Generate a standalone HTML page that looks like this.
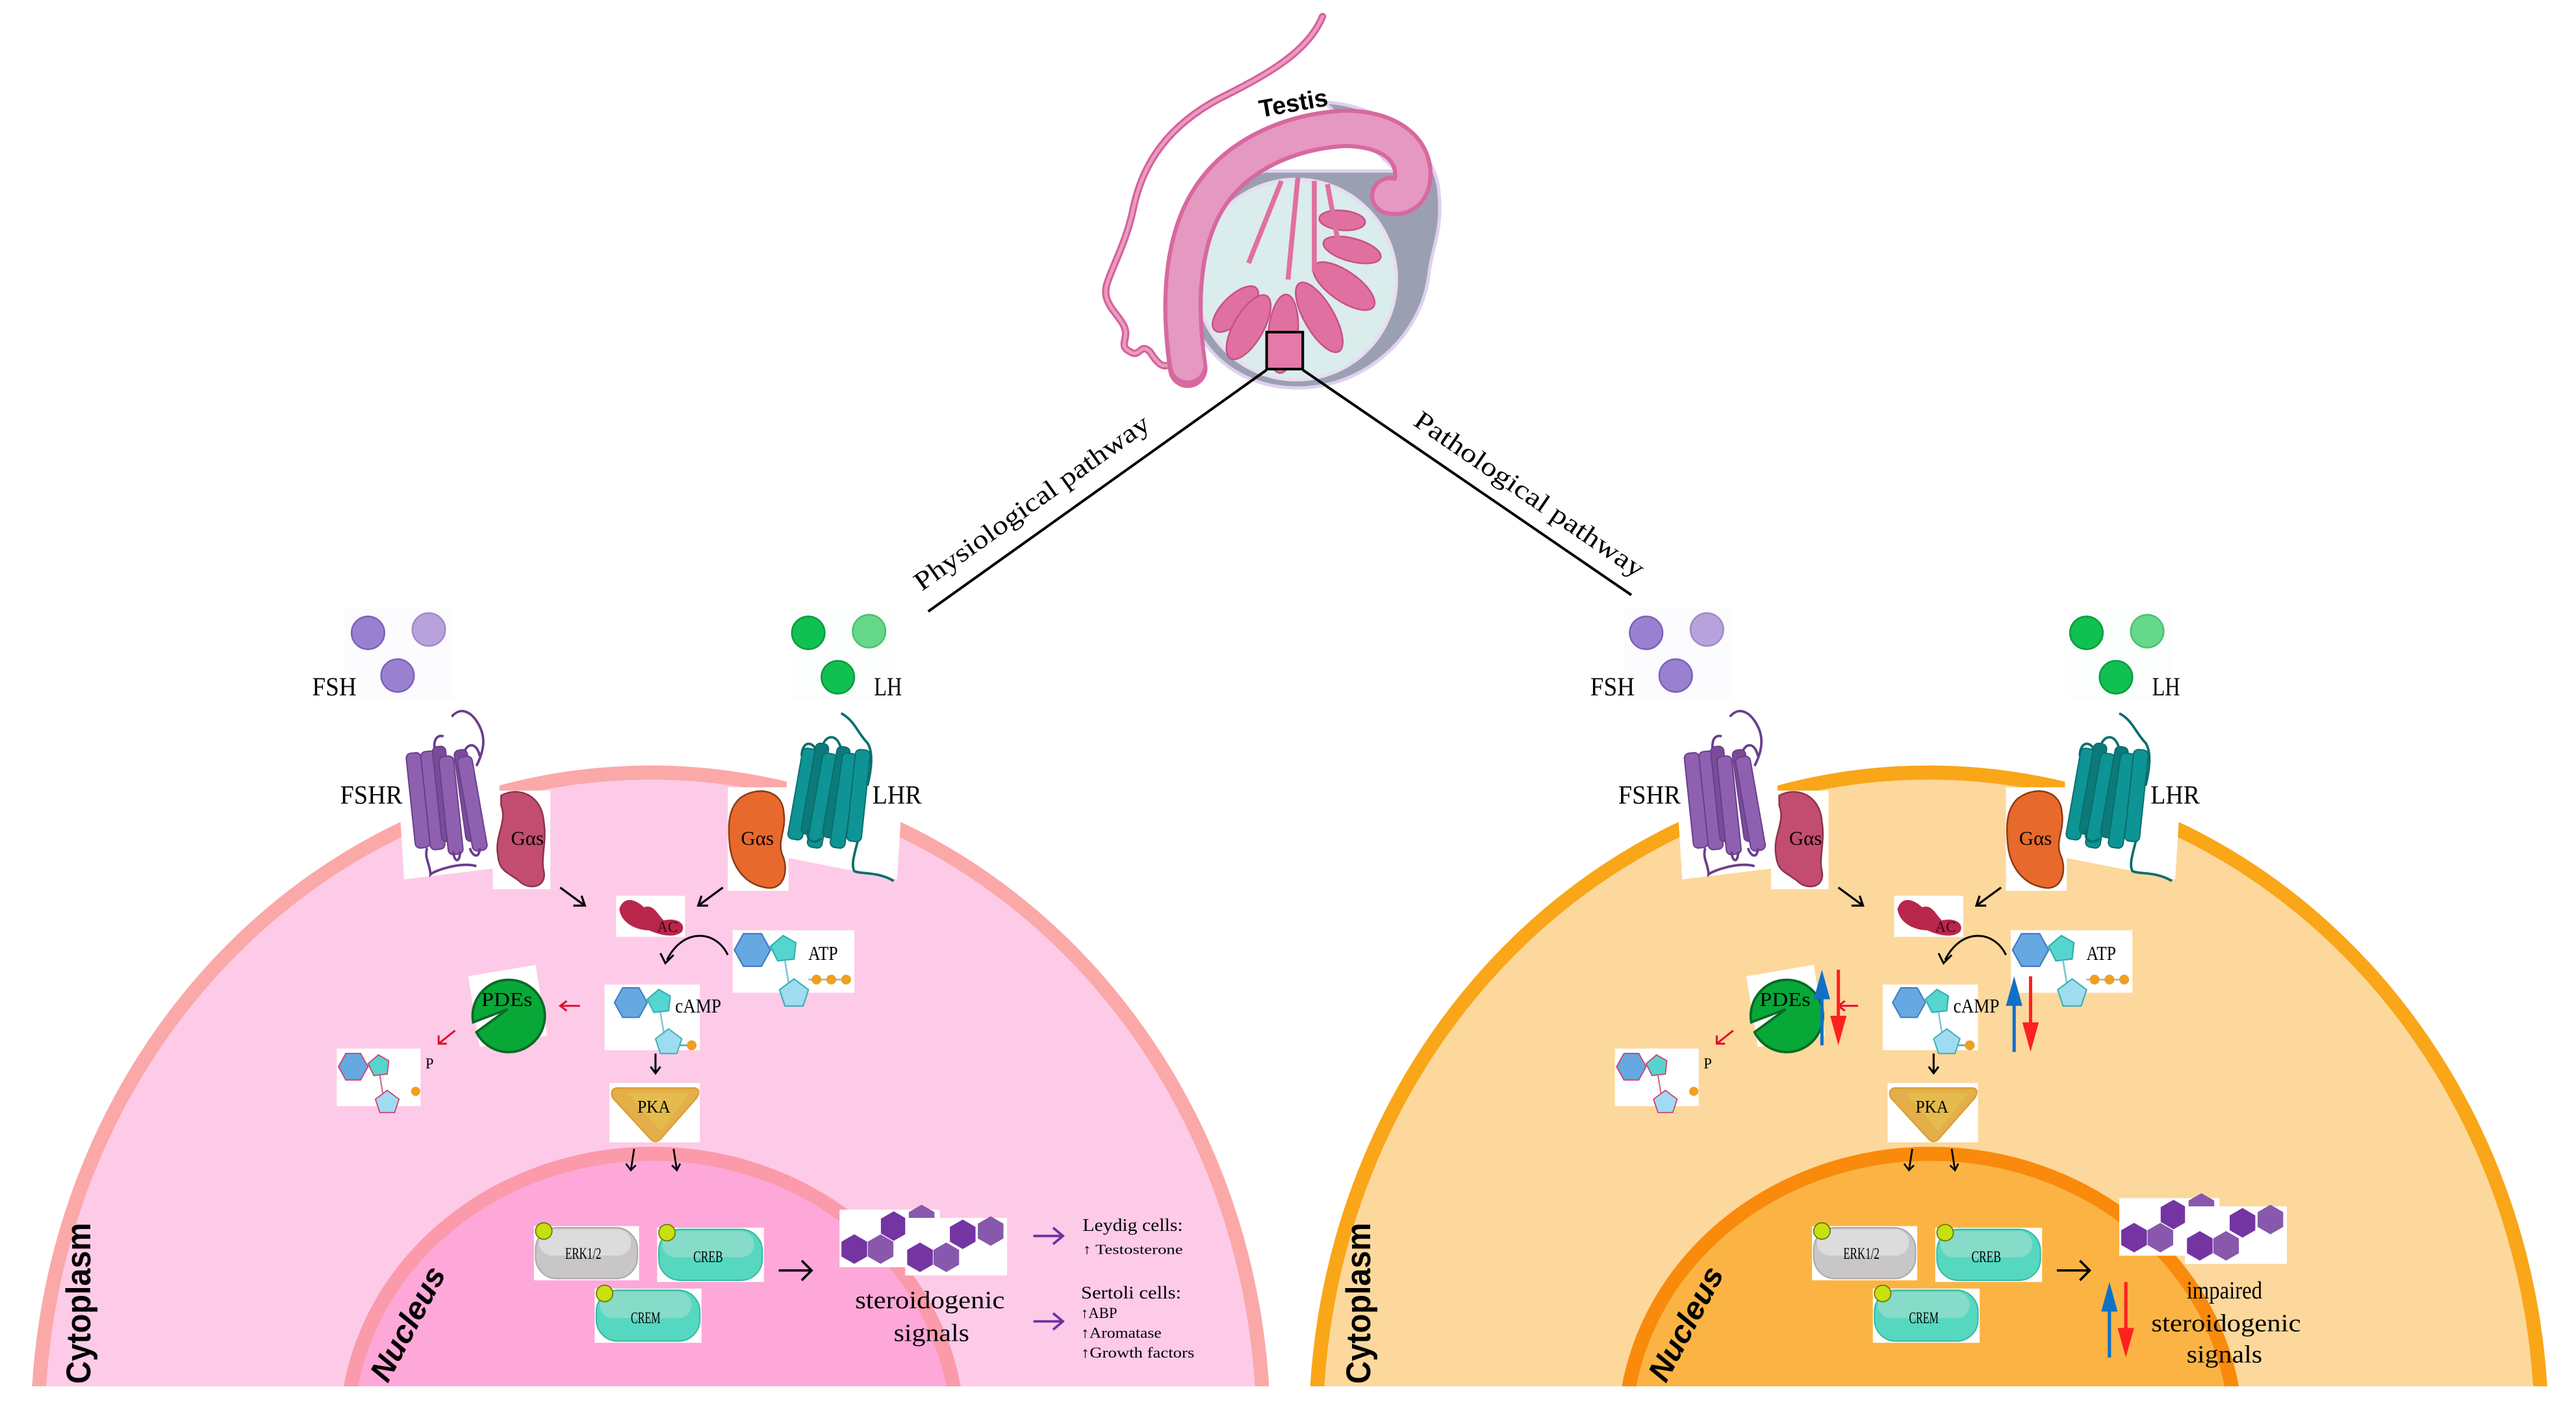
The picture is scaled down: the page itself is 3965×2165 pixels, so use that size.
<!DOCTYPE html>
<html><head><meta charset="utf-8"><style>
html,body{margin:0;padding:0;background:#fff;width:3965px;height:2165px;overflow:hidden;position:relative;}
svg{display:block;position:absolute;left:0;top:0;overflow:hidden;}
.sf{font-family:"Liberation Serif",serif;}
.ss{font-family:"Liberation Sans",sans-serif;}
</style></head><body>
<svg width="3965" height="2165" viewBox="0 0 1568 856" xmlns="http://www.w3.org/2000/svg">
<defs>
<clipPath id="cl"><rect x="0" y="0" width="1568" height="843.5"/></clipPath>
<polygon id="hx" points="0,-9 7.8,-4.5 7.8,4.5 0,9 -7.8,4.5 -7.8,-4.5"/>
<g id="mol">
  <polygon points="-10,0 -5,-9 5,-9 10,0 5,9 -5,9" fill="#66a8e0" stroke="#3f7cc4" stroke-width="0.8"/>
  <polygon points="10,-2 17,-8 24,-4 23,5 14,6" fill="#56d4d0" stroke="#2fb0b0" stroke-width="0.8"/>
  <line x1="18" y1="6" x2="20" y2="18" stroke="#7fc8d8" stroke-width="1"/>
  <polygon points="23,16 31,22 28,31 18,31 15,22" fill="#9fdcf2" stroke="#3fb2b2" stroke-width="0.8"/>
</g>
<g id="dbl">
  <line x1="5" y1="8" x2="5" y2="46" stroke="#1070c8" stroke-width="2"/>
  <polygon points="0,18 5,0 10,18" fill="#1070c8"/>
  <line x1="15" y1="0" x2="15" y2="38" stroke="#ff2020" stroke-width="2"/>
  <polygon points="10,28 15,46 20,28" fill="#ff2020"/>
</g>
<g id="hexes">
  <rect x="0" y="0" width="61" height="35" fill="#fff"/>
  <use href="#hx" x="9" y="24" fill="#7434a2"/>
  <use href="#hx" x="25" y="24" fill="#8858ac"/>
  <use href="#hx" x="33" y="10" fill="#7434a2"/>
  <use href="#hx" x="50" y="6" fill="#8858ac"/>
  <rect x="40" y="5" width="62" height="35" fill="#fff"/>
  <use href="#hx" x="49" y="29" fill="#7434a2"/>
  <use href="#hx" x="65" y="29" fill="#8858ac"/>
  <use href="#hx" x="75" y="15" fill="#7434a2"/>
  <use href="#hx" x="92" y="13" fill="#8858ac"/>
</g>
<g id="comp">
  <rect x="210" y="370" width="66" height="55" fill="#fcfbfe"/>
  <circle cx="224" cy="385" r="10" fill="#9a80d0" stroke="#7a62b8" stroke-width="1"/>
  <circle cx="261" cy="383" r="10" fill="#b8a2dc" stroke="#a08ac8" stroke-width="1"/>
  <circle cx="242" cy="411" r="10" fill="#9a80d0" stroke="#7a62b8" stroke-width="1"/>
  <rect x="482" y="370" width="62" height="55" fill="#fbfefc"/>
  <circle cx="492" cy="385" r="10" fill="#10c050" stroke="#0c9a40" stroke-width="1"/>
  <circle cx="529" cy="384" r="10" fill="#66d88a" stroke="#4cc070" stroke-width="1"/>
  <circle cx="510" cy="412" r="10" fill="#10c050" stroke="#0c9a40" stroke-width="1"/>
  <text class="sf" x="190" y="423" font-size="16" textLength="27" lengthAdjust="spacingAndGlyphs">FSH</text>
  <text class="sf" x="532" y="423" font-size="16" textLength="17" lengthAdjust="spacingAndGlyphs">LH</text>
  <polygon points="240,440 304,440 304,528 246,535" fill="#fff"/>
  <rect x="300" y="481" width="35" height="60" fill="#fff"/>
  <rect x="443" y="479" width="37" height="63" fill="#fff"/>
  <polygon points="478,440 552,440 546,535 480,522" fill="#fff"/>
  <g fill="#9060b0" stroke="#6a3e8e" stroke-width="0.8">
    <path d="M268,466 C262,455 264,446 270,448 M282,462 C282,452 290,450 292,460 M275,436 C280,430 287,432 292,442 C296,450 294,458 290,466" fill="none" stroke="#6a3e8e" stroke-width="1.5"/>
    <rect x="250" y="458" width="9" height="58" rx="3" transform="rotate(-6 254 487)"/>
    <rect x="259" y="457" width="9" height="60" rx="3" transform="rotate(-6 263 487)"/>
    <rect x="266" y="454" width="8" height="58" rx="3" fill="#7a4c98" transform="rotate(-6 270 483)"/>
    <rect x="270" y="460" width="9" height="60" rx="3" transform="rotate(-6 274 490)"/>
    <rect x="280" y="456" width="8" height="56" rx="3" fill="#7a4c98" transform="rotate(-8 284 484)"/>
    <rect x="283" y="460" width="9" height="58" rx="3" transform="rotate(-10 287 489)"/>
    <path d="M260,516 C258,522 262,526 262,532 C264,530 280,524 290,527 M276,518 C276,524 280,526 280,518 M286,516 C288,522 292,522 292,516" fill="none" stroke="#6a3e8e" stroke-width="1.5"/>
  </g>
  <text class="sf" x="207" y="489" font-size="16" textLength="38" lengthAdjust="spacingAndGlyphs">FSHR</text>
  <path d="M305,484 C316,478 330,484 331,500 C333,512 329,522 331,530 C333,540 322,542 316,536 C308,530 304,530 303,520 C301,508 309,500 305,490 Z" fill="#c24d70" stroke="#8e3250" stroke-width="1"/>
  <text class="sf" x="311" y="514" font-size="12" textLength="20" lengthAdjust="spacingAndGlyphs">Gαs</text>
  <g fill="#0e9494" stroke="#0a6e6e" stroke-width="0.8">
    <path d="M512,434 C520,438 522,446 528,452 C532,458 530,470 528,478 M488,460 C488,450 496,450 498,460 M500,456 C502,446 510,446 512,456" fill="none" stroke="#0a6e6e" stroke-width="1.5"/>
    <rect x="484" y="455" width="9" height="56" rx="3" transform="rotate(10 488 483)"/>
    <rect x="492" y="452" width="8" height="56" rx="3" fill="#0c7a7a" transform="rotate(10 496 480)"/>
    <rect x="496" y="458" width="9" height="58" rx="3" transform="rotate(10 500 487)"/>
    <rect x="505" y="454" width="8" height="56" rx="3" fill="#0c7a7a" transform="rotate(10 509 482)"/>
    <rect x="509" y="458" width="9" height="58" rx="3" transform="rotate(8 513 487)"/>
    <rect x="518" y="456" width="9" height="56" rx="3" transform="rotate(6 522 484)"/>
    <path d="M522,512 C520,520 518,526 520,530 C524,532 534,530 544,536 M492,505 C490,512 496,514 500,510" fill="none" stroke="#0a6e6e" stroke-width="1.5"/>
  </g>
  <text class="sf" x="531" y="489" font-size="16" textLength="30" lengthAdjust="spacingAndGlyphs">LHR</text>
  <path d="M450,486 C460,478 476,480 477,494 C479,506 472,512 477,522 C480,532 476,542 466,540 C454,538 445,528 444,512 C443,500 444,492 450,486 Z" fill="#e8692c" stroke="#8e3a14" stroke-width="1"/>
  <text class="sf" x="451" y="514" font-size="12" textLength="20" lengthAdjust="spacingAndGlyphs">Gαs</text>
  <g stroke="#000" stroke-width="1.3" fill="none">
    <path d="M341,540 L356,551 M349,551 L356,551 L354,545"/>
    <path d="M440,540 L425,551 M431,551 L425,551 L427,545"/>
  </g>
  <rect x="375" y="545" width="42" height="25" fill="#fff"/>
  <path d="M377,553 C380,544 388,548 392,552 C398,550 400,556 404,560 C412,558 418,562 415,567 C410,571 402,569 395,566 C388,566 378,562 377,553 Z" fill="#b8264c"/>
  <text class="sf" x="400" y="567" font-size="9" fill="#3a0010">AC</text>
  <rect x="446" y="566" width="74" height="38" fill="#fff"/>
  <use href="#mol" transform="translate(458,578) scale(1.1)"/>
  <line x1="492" y1="596" x2="515" y2="596" stroke="#9ab8d8" stroke-width="1"/>
  <circle cx="497" cy="596" r="3" fill="#f0a020"/><circle cx="506" cy="596" r="3" fill="#f0a020"/><circle cx="515" cy="596" r="3" fill="#f0a020"/>
  <text class="sf" x="492" y="584" font-size="12" textLength="18" lengthAdjust="spacingAndGlyphs">ATP</text>
  <path d="M443,581 C436,566 416,564 406,584" fill="none" stroke="#000" stroke-width="1.2"/>
  <path d="M402,580 L405,586 L410,581" fill="none" stroke="#000" stroke-width="1.2"/>
  <rect x="368" y="599" width="58" height="40" fill="#fff"/>
  <use href="#mol" transform="translate(384,610)"/>
  <line x1="414" y1="636" x2="419" y2="636" stroke="#4ab" stroke-width="1"/>
  <circle cx="421" cy="636" r="3" fill="#f0a020"/>
  <text class="sf" x="411" y="616" font-size="12" textLength="28" lengthAdjust="spacingAndGlyphs">cAMP</text>
  <polygon points="285,594 326,587 333,630 292,637" fill="#fff"/>
  <path d="M309,614 L288,622 A22,22 0 1 1 290,628 Z" fill="#08a838" stroke="#0a6a24" stroke-width="1.5"/>
  <text class="sf" x="293" y="612" font-size="12" textLength="31" lengthAdjust="spacingAndGlyphs">PDEs</text>
  <g stroke="#e01030" stroke-width="1.2" fill="none">
    <path d="M353,612 L341,612 M345,609 L341,612 L345,615"/>
    <path d="M277,627 L267,635 M267,630 L267,635 L272,635"/>
  </g>
  <rect x="205" y="638" width="51" height="35" fill="#fff"/>
  <g transform="translate(215,649) scale(0.9)">
    <polygon points="-10,0 -5,-9 5,-9 10,0 5,9 -5,9" fill="#66a8e0" stroke="#d04070" stroke-width="0.8"/>
    <polygon points="10,-2 17,-8 24,-4 23,5 14,6" fill="#56d4d0" stroke="#d04070" stroke-width="0.8"/>
    <line x1="18" y1="6" x2="20" y2="18" stroke="#d07090" stroke-width="1"/>
    <polygon points="23,16 31,22 28,31 18,31 15,22" fill="#9fdcf2" stroke="#d04070" stroke-width="0.8"/>
  </g>
  <circle cx="253" cy="664" r="2.8" fill="#f0a020"/>
  <text class="sf" x="259" y="650" font-size="9">P</text>
  <path d="M399,641 L399,653 M396,649 L399,653 L402,649" stroke="#000" stroke-width="1.2" fill="none"/>
  <rect x="371" y="659" width="55" height="36" fill="#fff"/>
  <path d="M375,662 L423,662 Q427,663 424,668 L402,693 Q399,696 396,693 L373,668 Q371,663 375,662 Z" fill="#e4ae48" stroke="#daa038" stroke-width="1"/>
  <path d="M382,665 L420,665 L402,688 Z" fill="#e2c250" opacity="0.7"/>
  <text class="sf" x="388" y="677" font-size="11" textLength="20" lengthAdjust="spacingAndGlyphs">PKA</text>
  <g stroke="#000" stroke-width="1.1" fill="none">
    <path d="M386,699 L384,712 M381,708 L384,712 L387,709"/>
    <path d="M410,699 L412,712 M409,709 L412,712 L414,708"/>
  </g>
  <rect x="325" y="746" width="64" height="33" fill="#fff"/>
  <rect x="326" y="747" width="62" height="31" rx="13" fill="#c8c6c6" stroke="#a8a8a8" stroke-width="0.8"/>
  <rect x="328" y="748" width="56" height="16" rx="8" fill="#dcdcdc"/>
  <circle cx="331" cy="749" r="5" fill="#c8e010" stroke="#6a7a00" stroke-width="0.7"/>
  <text class="sf" x="344" y="766" font-size="10" textLength="22" lengthAdjust="spacingAndGlyphs">ERK1/2</text>
  <rect x="400" y="747" width="65" height="33" fill="#fff"/>
  <rect x="401" y="748" width="63" height="31" rx="13" fill="#56d8c0" stroke="#36b8a0" stroke-width="0.8"/>
  <rect x="403" y="749" width="56" height="16" rx="8" fill="#86dcc8"/>
  <circle cx="406" cy="750" r="5" fill="#c8e010" stroke="#6a7a00" stroke-width="0.7"/>
  <text class="sf" x="422" y="768" font-size="10" textLength="18" lengthAdjust="spacingAndGlyphs">CREB</text>
  <rect x="362" y="784" width="65" height="33" fill="#fff"/>
  <rect x="363" y="785" width="63" height="31" rx="13" fill="#56d8c0" stroke="#36b8a0" stroke-width="0.8"/>
  <rect x="365" y="786" width="56" height="16" rx="8" fill="#86dcc8"/>
  <circle cx="368" cy="787" r="5" fill="#c8e010" stroke="#6a7a00" stroke-width="0.7"/>
  <text class="sf" x="384" y="805" font-size="10" textLength="18" lengthAdjust="spacingAndGlyphs">CREM</text>
  <path d="M474,773 L494,773 M488,767 L494,773 L488,779" stroke="#000" stroke-width="1.4" fill="none"/>
</g>
</defs>

<g>
  <path d="M805,10 C796,32 770,46 742,60 C712,76 696,98 690,126 C686,146 678,160 674,172 C670,184 680,190 684,198 C688,206 680,210 688,214 C694,218 694,208 700,214 C704,220 708,226 714,220" fill="none" stroke="#d8609a" stroke-width="4.5" stroke-linecap="round"/>
  <path d="M805,10 C796,32 770,46 742,60 C712,76 696,98 690,126 C686,146 678,160 674,172 C670,184 680,190 684,198 C688,206 680,210 688,214 C694,218 694,208 700,214 C704,220 708,226 714,220" fill="none" stroke="#e89cc0" stroke-width="2" stroke-linecap="round"/>
  <path d="M806,62 C842,64 874,88 876,118 C878,140 872,150 870,165 C866,205 830,236 790,236 C748,236 720,205 722,168 C724,130 744,112 770,104 L850,104 Z" fill="#9aa0b2" stroke="#e0d0ee" stroke-width="2"/>
  <ellipse cx="789" cy="170" rx="61" ry="61" fill="#daeceb" stroke="#e8dcf0" stroke-width="2"/>
  <g fill="#e070a0" stroke="#c8508a" stroke-width="1">
    <ellipse cx="752" cy="188" rx="18" ry="8" transform="rotate(-45 752 188)"/>
    <ellipse cx="760" cy="199" rx="22" ry="9" transform="rotate(-60 760 199)"/>
    <ellipse cx="781" cy="203" rx="24" ry="9" transform="rotate(-85 781 203)"/>
    <ellipse cx="803" cy="193" rx="24" ry="9" transform="rotate(-120 803 193)"/>
    <ellipse cx="818" cy="174" rx="22" ry="9" transform="rotate(-145 818 174)"/>
    <ellipse cx="823" cy="152" rx="18" ry="7" transform="rotate(-165 823 152)"/>
    <ellipse cx="817" cy="134" rx="14" ry="6" transform="rotate(-175 817 134)"/>
    <path d="M780,110 L760,160 M790,108 L784,170 M800,110 L800,165 M808,112 L815,150" stroke="#e070a0" stroke-width="3" fill="none"/>
  </g>
  <path d="M723,224 C718,190 718,150 735,122 C752,94 785,80 818,78 C845,78 860,90 860,106 C860,116 854,121 846,119" fill="none" stroke="#d868a0" stroke-width="24" stroke-linecap="round"/>
  <path d="M723,222 C718,190 718,150 735,122 C752,94 785,80 818,78 C845,78 860,90 860,106 C860,116 854,121 846,119" fill="none" stroke="#e598c0" stroke-width="19" stroke-linecap="round"/>
  <rect x="771" y="202" width="22" height="22.5" fill="#e47aa8" stroke="#000" stroke-width="1.6"/>
  <text class="ss" x="766" y="68" font-size="15" font-weight="bold" transform="rotate(-10 786 62)">Testis</text>
</g>
<line x1="771" y1="225" x2="565" y2="372" stroke="#000" stroke-width="1.6"/>
<line x1="793" y1="225" x2="993" y2="362" stroke="#000" stroke-width="1.6"/>
<text class="sf" x="0" y="0" font-size="16" text-anchor="middle" textLength="172" lengthAdjust="spacingAndGlyphs" transform="translate(631,310) rotate(-35.5)">Physiological pathway</text>
<text class="sf" x="0" y="0" font-size="16" text-anchor="middle" textLength="166" lengthAdjust="spacingAndGlyphs" transform="translate(928,305) rotate(34.4)">Pathological pathway</text>

<g clip-path="url(#cl)">
  <ellipse cx="396" cy="870" rx="373" ry="400" fill="#fdcbe8" stroke="#fba8a8" stroke-width="8.6"/>
  <ellipse cx="397" cy="872" rx="186" ry="170" fill="#fda8d8" stroke="#fb9aaa" stroke-width="8.6"/>
  <ellipse cx="1174" cy="870" rx="373" ry="400" fill="#fdd89c" stroke="#f9a618" stroke-width="8.6"/>
  <ellipse cx="1175" cy="872" rx="186" ry="170" fill="#fbb444" stroke="#f98a0c" stroke-width="8.6"/>
</g>
<text class="ss" font-size="21" font-weight="bold" textLength="98" lengthAdjust="spacingAndGlyphs" transform="translate(55,842) rotate(-90)">Cytoplasm</text>
<text class="ss" font-size="19" font-weight="bold" font-style="italic" textLength="76" lengthAdjust="spacingAndGlyphs" transform="translate(236,842) rotate(-62)">Nucleus</text>
<text class="ss" font-size="21" font-weight="bold" textLength="98" lengthAdjust="spacingAndGlyphs" transform="translate(834,842) rotate(-90)">Cytoplasm</text>
<text class="ss" font-size="19" font-weight="bold" font-style="italic" textLength="76" lengthAdjust="spacingAndGlyphs" transform="translate(1014,842) rotate(-62)">Nucleus</text>

<use href="#comp"/>
<use href="#comp" transform="translate(778,0)"/>

<use href="#hexes" transform="translate(511,736)"/>
<text class="sf" x="566" y="796" font-size="15" text-anchor="middle" textLength="91" lengthAdjust="spacingAndGlyphs">steroidogenic</text>
<text class="sf" x="567" y="816" font-size="15" text-anchor="middle" textLength="46" lengthAdjust="spacingAndGlyphs">signals</text>
<g stroke="#7030a0" stroke-width="1.5" fill="none">
  <path d="M629,752 L647,752 M641,747 L647,752 L641,757"/>
  <path d="M629,804 L647,804 M641,799 L647,804 L641,809"/>
</g>
<text class="sf" x="659" y="749" font-size="11" textLength="61" lengthAdjust="spacingAndGlyphs">Leydig cells:</text>
<text class="sf" x="659" y="763" font-size="8.5" textLength="61" lengthAdjust="spacingAndGlyphs">↑ Testosterone</text>
<text class="sf" x="658" y="790" font-size="11" textLength="61" lengthAdjust="spacingAndGlyphs">Sertoli cells:</text>
<text class="sf" x="658" y="802" font-size="9">↑ABP</text>
<text class="sf" x="658" y="814" font-size="9" textLength="49" lengthAdjust="spacingAndGlyphs">↑Aromatase</text>
<text class="sf" x="658" y="826" font-size="9" textLength="69" lengthAdjust="spacingAndGlyphs">↑Growth factors</text>

<use href="#hexes" transform="translate(1290,729)"/>
<use href="#dbl" transform="translate(1104,590)"/>
<use href="#dbl" transform="translate(1221,594)"/>
<use href="#dbl" transform="translate(1279,780)"/>
<text class="sf" x="1354" y="790" font-size="15" text-anchor="middle" textLength="46" lengthAdjust="spacingAndGlyphs">impaired</text>
<text class="sf" x="1355" y="810" font-size="15" text-anchor="middle" textLength="91" lengthAdjust="spacingAndGlyphs">steroidogenic</text>
<text class="sf" x="1354" y="829" font-size="15" text-anchor="middle" textLength="46" lengthAdjust="spacingAndGlyphs">signals</text>
</svg>
</body></html>
